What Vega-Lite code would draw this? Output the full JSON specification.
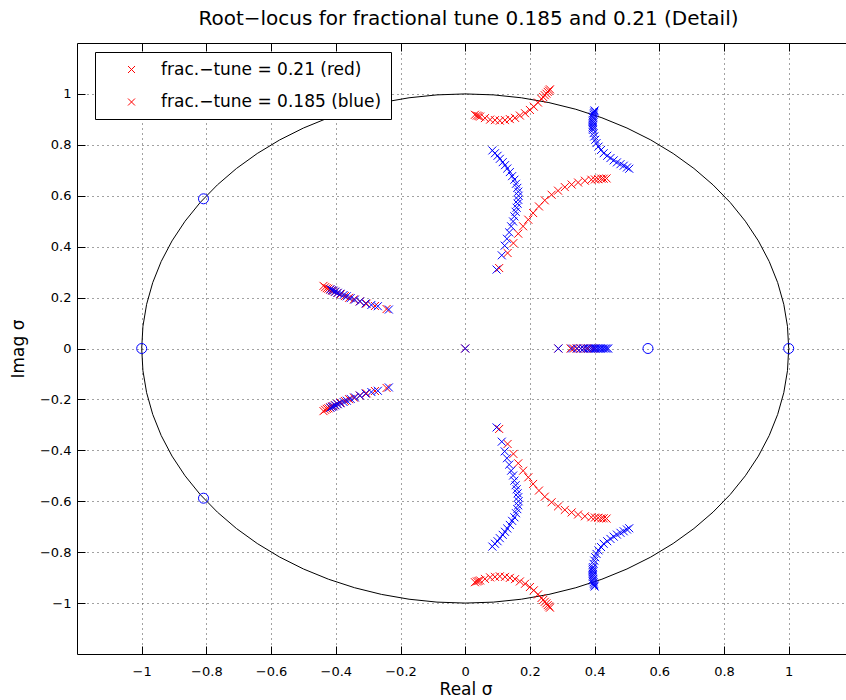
{
  "$schema": "https://vega.github.io/schema/vega-lite/v6.json",
  "autosize": {"type": "none"},
  "padding": {"left": 77, "top": 43, "right": 0, "bottom": 46},
  "width": 769,
  "height": 611,
  "title": {"text": "Root−locus for fractional tune 0.185 and 0.21 (Detail)", "font": "DejaVu Sans", "fontSize": 20, "fontWeight": "normal", "color": "#000", "anchor": "middle", "baseline": "alphabetic", "offset": 0, "dx": 7, "dy": 2},
  "resolve": {"axis": {"x": "independent", "y": "independent"}},
  "config": {
    "view": {"stroke": null},
    "axis": {"labelFont": "DejaVu Sans", "labelFontSize": 13, "labelColor": "#000", "titleFont": "DejaVu Sans", "titleFontSize": 17, "titleFontWeight": "normal", "titleColor": "#000", "domainColor": "#000", "domainWidth": 1, "tickColor": "#000", "tickWidth": 1, "gridColor": "#444", "gridDash": [1, 4], "gridWidth": 1, "labelFlush": false, "labelOverlap": false}
  },
  "datasets": {
    "circle": [
      {"t":0,"cx":1,"cy":0},{"t":5,"cx":0.9962,"cy":0.0872},{"t":10,"cx":0.9848,"cy":0.1736},{"t":15,"cx":0.9659,"cy":0.2588},{"t":20,"cx":0.9397,"cy":0.342},{"t":25,"cx":0.9063,"cy":0.4226},{"t":30,"cx":0.866,"cy":0.5},{"t":35,"cx":0.8192,"cy":0.5736},{"t":40,"cx":0.766,"cy":0.6428},{"t":45,"cx":0.7071,"cy":0.7071},{"t":50,"cx":0.6428,"cy":0.766},{"t":55,"cx":0.5736,"cy":0.8192},{"t":60,"cx":0.5,"cy":0.866},{"t":65,"cx":0.4226,"cy":0.9063},{"t":70,"cx":0.342,"cy":0.9397},{"t":75,"cx":0.2588,"cy":0.9659},{"t":80,"cx":0.1736,"cy":0.9848},{"t":85,"cx":0.0872,"cy":0.9962},
      {"t":90,"cx":0,"cy":1},{"t":95,"cx":-0.0872,"cy":0.9962},{"t":100,"cx":-0.1736,"cy":0.9848},{"t":105,"cx":-0.2588,"cy":0.9659},{"t":110,"cx":-0.342,"cy":0.9397},{"t":115,"cx":-0.4226,"cy":0.9063},{"t":120,"cx":-0.5,"cy":0.866},{"t":125,"cx":-0.5736,"cy":0.8192},{"t":130,"cx":-0.6428,"cy":0.766},{"t":135,"cx":-0.7071,"cy":0.7071},{"t":140,"cx":-0.766,"cy":0.6428},{"t":145,"cx":-0.8192,"cy":0.5736},{"t":150,"cx":-0.866,"cy":0.5},{"t":155,"cx":-0.9063,"cy":0.4226},{"t":160,"cx":-0.9397,"cy":0.342},{"t":165,"cx":-0.9659,"cy":0.2588},{"t":170,"cx":-0.9848,"cy":0.1736},{"t":175,"cx":-0.9962,"cy":0.0872},
      {"t":180,"cx":-1,"cy":0},{"t":185,"cx":-0.9962,"cy":-0.0872},{"t":190,"cx":-0.9848,"cy":-0.1736},{"t":195,"cx":-0.9659,"cy":-0.2588},{"t":200,"cx":-0.9397,"cy":-0.342},{"t":205,"cx":-0.9063,"cy":-0.4226},{"t":210,"cx":-0.866,"cy":-0.5},{"t":215,"cx":-0.8192,"cy":-0.5736},{"t":220,"cx":-0.766,"cy":-0.6428},{"t":225,"cx":-0.7071,"cy":-0.7071},{"t":230,"cx":-0.6428,"cy":-0.766},{"t":235,"cx":-0.5736,"cy":-0.8192},{"t":240,"cx":-0.5,"cy":-0.866},{"t":245,"cx":-0.4226,"cy":-0.9063},{"t":250,"cx":-0.342,"cy":-0.9397},{"t":255,"cx":-0.2588,"cy":-0.9659},{"t":260,"cx":-0.1736,"cy":-0.9848},{"t":265,"cx":-0.0872,"cy":-0.9962},
      {"t":270,"cx":0,"cy":-1},{"t":275,"cx":0.0872,"cy":-0.9962},{"t":280,"cx":0.1736,"cy":-0.9848},{"t":285,"cx":0.2588,"cy":-0.9659},{"t":290,"cx":0.342,"cy":-0.9397},{"t":295,"cx":0.4226,"cy":-0.9063},{"t":300,"cx":0.5,"cy":-0.866},{"t":305,"cx":0.5736,"cy":-0.8192},{"t":310,"cx":0.6428,"cy":-0.766},{"t":315,"cx":0.7071,"cy":-0.7071},{"t":320,"cx":0.766,"cy":-0.6428},{"t":325,"cx":0.8192,"cy":-0.5736},{"t":330,"cx":0.866,"cy":-0.5},{"t":335,"cx":0.9063,"cy":-0.4226},{"t":340,"cx":0.9397,"cy":-0.342},{"t":345,"cx":0.9659,"cy":-0.2588},{"t":350,"cx":0.9848,"cy":-0.1736},{"t":355,"cx":0.9962,"cy":-0.0872},{"t":360,"cx":1,"cy":0}
    ],
    "zeros": [
      {"x":-1,"y":0},{"x":1,"y":0},{"x":0.565,"y":0},{"x":-0.809,"y":0.588},{"x":-0.809,"y":-0.588}
    ],
    "poles": [
      {"s":"r","x":0.030,"y":0.918},{"s":"r","x":0.036,"y":0.915},{"s":"r","x":0.041,"y":0.913},{"s":"r","x":0.046,"y":0.911},{"s":"r","x":0.061,"y":0.905},{"s":"r","x":0.077,"y":0.899},{"s":"r","x":0.092,"y":0.897},{"s":"r","x":0.107,"y":0.895},{"s":"r","x":0.123,"y":0.897},{"s":"r","x":0.138,"y":0.901},{"s":"r","x":0.154,"y":0.906},{"s":"r","x":0.169,"y":0.915},{"s":"r","x":0.185,"y":0.924},{"s":"r","x":0.200,"y":0.937},{"s":"r","x":0.212,"y":0.950},{"s":"r","x":0.225,"y":0.966},{"s":"r","x":0.236,"y":0.980},{"s":"r","x":0.241,"y":0.988},{"s":"r","x":0.246,"y":0.995},{"s":"r","x":0.251,"y":1.001},{"s":"r","x":0.255,"y":1.008},{"s":"r","x":0.259,"y":1.013},{"s":"r","x":0.262,"y":1.018},
      {"s":"r","x":0.105,"y":0.316},{"s":"r","x":0.131,"y":0.375},{"s":"r","x":0.149,"y":0.414},{"s":"r","x":0.164,"y":0.451},{"s":"r","x":0.179,"y":0.480},{"s":"r","x":0.195,"y":0.506},{"s":"r","x":0.210,"y":0.532},{"s":"r","x":0.228,"y":0.558},{"s":"r","x":0.246,"y":0.582},{"s":"r","x":0.267,"y":0.604},{"s":"r","x":0.287,"y":0.620},{"s":"r","x":0.308,"y":0.634},{"s":"r","x":0.329,"y":0.644},{"s":"r","x":0.349,"y":0.652},{"s":"r","x":0.370,"y":0.659},{"s":"r","x":0.390,"y":0.663},{"s":"r","x":0.401,"y":0.664},{"s":"r","x":0.411,"y":0.665},{"s":"r","x":0.421,"y":0.667},{"s":"r","x":0.428,"y":0.667},{"s":"r","x":0.437,"y":0.668},
      {"s":"r","x":-0.438,"y":0.246},{"s":"r","x":-0.433,"y":0.241},{"s":"r","x":-0.428,"y":0.237},{"s":"r","x":-0.423,"y":0.235},{"s":"r","x":-0.417,"y":0.231},{"s":"r","x":-0.410,"y":0.227},{"s":"r","x":-0.403,"y":0.223},{"s":"r","x":-0.395,"y":0.218},{"s":"r","x":-0.385,"y":0.213},{"s":"r","x":-0.372,"y":0.206},{"s":"r","x":-0.359,"y":0.199},{"s":"r","x":-0.344,"y":0.193},{"s":"r","x":-0.326,"y":0.185},{"s":"r","x":-0.305,"y":0.176},{"s":"r","x":-0.279,"y":0.167},{"s":"r","x":-0.243,"y":0.155},
      {"s":"r","x":0,"y":0},
      {"s":"r","x":0.288,"y":0},{"s":"r","x":0.326,"y":0},{"s":"r","x":0.336,"y":0},{"s":"r","x":0.346,"y":0},{"s":"r","x":0.357,"y":0},{"s":"r","x":0.367,"y":0},{"s":"r","x":0.377,"y":0},{"s":"r","x":0.388,"y":0},{"s":"r","x":0.398,"y":0},
      {"s":"r","x":-0.438,"y":-0.246},{"s":"r","x":-0.433,"y":-0.241},{"s":"r","x":-0.428,"y":-0.237},{"s":"r","x":-0.423,"y":-0.235},{"s":"r","x":-0.417,"y":-0.231},{"s":"r","x":-0.410,"y":-0.227},{"s":"r","x":-0.403,"y":-0.223},{"s":"r","x":-0.395,"y":-0.218},{"s":"r","x":-0.385,"y":-0.213},{"s":"r","x":-0.372,"y":-0.206},{"s":"r","x":-0.359,"y":-0.199},{"s":"r","x":-0.344,"y":-0.193},{"s":"r","x":-0.326,"y":-0.185},{"s":"r","x":-0.305,"y":-0.176},{"s":"r","x":-0.279,"y":-0.167},{"s":"r","x":-0.243,"y":-0.155},
      {"s":"r","x":0.105,"y":-0.316},{"s":"r","x":0.131,"y":-0.375},{"s":"r","x":0.149,"y":-0.414},{"s":"r","x":0.164,"y":-0.451},{"s":"r","x":0.179,"y":-0.480},{"s":"r","x":0.195,"y":-0.506},{"s":"r","x":0.210,"y":-0.532},{"s":"r","x":0.228,"y":-0.558},{"s":"r","x":0.246,"y":-0.582},{"s":"r","x":0.267,"y":-0.604},{"s":"r","x":0.287,"y":-0.620},{"s":"r","x":0.308,"y":-0.634},{"s":"r","x":0.329,"y":-0.644},{"s":"r","x":0.349,"y":-0.652},{"s":"r","x":0.370,"y":-0.659},{"s":"r","x":0.390,"y":-0.663},{"s":"r","x":0.401,"y":-0.664},{"s":"r","x":0.411,"y":-0.665},{"s":"r","x":0.421,"y":-0.667},{"s":"r","x":0.428,"y":-0.667},{"s":"r","x":0.437,"y":-0.668},
      {"s":"r","x":0.030,"y":-0.918},{"s":"r","x":0.036,"y":-0.915},{"s":"r","x":0.041,"y":-0.913},{"s":"r","x":0.046,"y":-0.911},{"s":"r","x":0.061,"y":-0.905},{"s":"r","x":0.077,"y":-0.899},{"s":"r","x":0.092,"y":-0.897},{"s":"r","x":0.107,"y":-0.895},{"s":"r","x":0.123,"y":-0.897},{"s":"r","x":0.138,"y":-0.901},{"s":"r","x":0.154,"y":-0.906},{"s":"r","x":0.169,"y":-0.915},{"s":"r","x":0.185,"y":-0.924},{"s":"r","x":0.200,"y":-0.937},{"s":"r","x":0.212,"y":-0.950},{"s":"r","x":0.225,"y":-0.966},{"s":"r","x":0.236,"y":-0.980},{"s":"r","x":0.241,"y":-0.988},{"s":"r","x":0.246,"y":-0.995},{"s":"r","x":0.251,"y":-1.001},{"s":"r","x":0.255,"y":-1.008},{"s":"r","x":0.259,"y":-1.013},{"s":"r","x":0.262,"y":-1.018},
      {"s":"b","x":0.400,"y":0.935},{"s":"b","x":0.399,"y":0.930},{"s":"b","x":0.398,"y":0.924},{"s":"b","x":0.397,"y":0.918},{"s":"b","x":0.395,"y":0.911},{"s":"b","x":0.396,"y":0.905},{"s":"b","x":0.394,"y":0.898},{"s":"b","x":0.394,"y":0.891},{"s":"b","x":0.394,"y":0.885},{"s":"b","x":0.394,"y":0.878},{"s":"b","x":0.394,"y":0.872},{"s":"b","x":0.394,"y":0.865},{"s":"b","x":0.395,"y":0.859},{"s":"b","x":0.397,"y":0.846},{"s":"b","x":0.399,"y":0.833},{"s":"b","x":0.402,"y":0.820},{"s":"b","x":0.406,"y":0.807},{"s":"b","x":0.412,"y":0.793},{"s":"b","x":0.420,"y":0.780},{"s":"b","x":0.428,"y":0.767},{"s":"b","x":0.439,"y":0.757},{"s":"b","x":0.449,"y":0.748},{"s":"b","x":0.459,"y":0.739},{"s":"b","x":0.469,"y":0.731},{"s":"b","x":0.480,"y":0.724},{"s":"b","x":0.490,"y":0.718},{"s":"b","x":0.500,"y":0.711},{"s":"b","x":0.507,"y":0.706},
      {"s":"b","x":0.084,"y":0.778},{"s":"b","x":0.092,"y":0.767},{"s":"b","x":0.100,"y":0.757},{"s":"b","x":0.107,"y":0.745},{"s":"b","x":0.116,"y":0.732},{"s":"b","x":0.123,"y":0.720},{"s":"b","x":0.130,"y":0.707},{"s":"b","x":0.138,"y":0.693},{"s":"b","x":0.145,"y":0.677},{"s":"b","x":0.152,"y":0.663},{"s":"b","x":0.157,"y":0.647},{"s":"b","x":0.161,"y":0.631},{"s":"b","x":0.164,"y":0.616},{"s":"b","x":0.165,"y":0.600},{"s":"b","x":0.164,"y":0.584},{"s":"b","x":0.162,"y":0.569},{"s":"b","x":0.159,"y":0.553},{"s":"b","x":0.156,"y":0.537},{"s":"b","x":0.152,"y":0.519},{"s":"b","x":0.148,"y":0.499},{"s":"b","x":0.142,"y":0.480},{"s":"b","x":0.136,"y":0.456},{"s":"b","x":0.129,"y":0.431},{"s":"b","x":0.122,"y":0.404},{"s":"b","x":0.113,"y":0.366},{"s":"b","x":0.097,"y":0.310},
      {"s":"b","x":-0.417,"y":0.233},{"s":"b","x":-0.412,"y":0.229},{"s":"b","x":-0.407,"y":0.227},{"s":"b","x":-0.401,"y":0.223},{"s":"b","x":-0.394,"y":0.219},{"s":"b","x":-0.386,"y":0.215},{"s":"b","x":-0.376,"y":0.210},{"s":"b","x":-0.366,"y":0.205},{"s":"b","x":-0.354,"y":0.198},{"s":"b","x":-0.341,"y":0.192},{"s":"b","x":-0.325,"y":0.185},{"s":"b","x":-0.308,"y":0.177},{"s":"b","x":-0.290,"y":0.171},{"s":"b","x":-0.270,"y":0.166},{"s":"b","x":-0.236,"y":0.153},
      {"s":"b","x":0,"y":0},
      {"s":"b","x":0.288,"y":0},{"s":"b","x":0.330,"y":0},{"s":"b","x":0.345,"y":0},{"s":"b","x":0.357,"y":0},{"s":"b","x":0.366,"y":0},{"s":"b","x":0.374,"y":0},{"s":"b","x":0.381,"y":0},{"s":"b","x":0.387,"y":0},{"s":"b","x":0.393,"y":0},{"s":"b","x":0.398,"y":0},{"s":"b","x":0.403,"y":0},{"s":"b","x":0.408,"y":0},{"s":"b","x":0.413,"y":0},{"s":"b","x":0.418,"y":0},{"s":"b","x":0.423,"y":0},{"s":"b","x":0.428,"y":0},{"s":"b","x":0.433,"y":0},{"s":"b","x":0.438,"y":0},{"s":"b","x":0.442,"y":0},
      {"s":"b","x":-0.417,"y":-0.233},{"s":"b","x":-0.412,"y":-0.229},{"s":"b","x":-0.407,"y":-0.227},{"s":"b","x":-0.401,"y":-0.223},{"s":"b","x":-0.394,"y":-0.219},{"s":"b","x":-0.386,"y":-0.215},{"s":"b","x":-0.376,"y":-0.210},{"s":"b","x":-0.366,"y":-0.205},{"s":"b","x":-0.354,"y":-0.198},{"s":"b","x":-0.341,"y":-0.192},{"s":"b","x":-0.325,"y":-0.185},{"s":"b","x":-0.308,"y":-0.177},{"s":"b","x":-0.290,"y":-0.171},{"s":"b","x":-0.270,"y":-0.166},{"s":"b","x":-0.236,"y":-0.153},
      {"s":"b","x":0.084,"y":-0.778},{"s":"b","x":0.092,"y":-0.767},{"s":"b","x":0.100,"y":-0.757},{"s":"b","x":0.107,"y":-0.745},{"s":"b","x":0.116,"y":-0.732},{"s":"b","x":0.123,"y":-0.720},{"s":"b","x":0.130,"y":-0.707},{"s":"b","x":0.138,"y":-0.693},{"s":"b","x":0.145,"y":-0.677},{"s":"b","x":0.152,"y":-0.663},{"s":"b","x":0.157,"y":-0.647},{"s":"b","x":0.161,"y":-0.631},{"s":"b","x":0.164,"y":-0.616},{"s":"b","x":0.165,"y":-0.600},{"s":"b","x":0.164,"y":-0.584},{"s":"b","x":0.162,"y":-0.569},{"s":"b","x":0.159,"y":-0.553},{"s":"b","x":0.156,"y":-0.537},{"s":"b","x":0.152,"y":-0.519},{"s":"b","x":0.148,"y":-0.499},{"s":"b","x":0.142,"y":-0.480},{"s":"b","x":0.136,"y":-0.456},{"s":"b","x":0.129,"y":-0.431},{"s":"b","x":0.122,"y":-0.404},{"s":"b","x":0.113,"y":-0.366},{"s":"b","x":0.097,"y":-0.310},
      {"s":"b","x":0.400,"y":-0.935},{"s":"b","x":0.399,"y":-0.930},{"s":"b","x":0.398,"y":-0.924},{"s":"b","x":0.397,"y":-0.918},{"s":"b","x":0.395,"y":-0.911},{"s":"b","x":0.396,"y":-0.905},{"s":"b","x":0.394,"y":-0.898},{"s":"b","x":0.394,"y":-0.891},{"s":"b","x":0.394,"y":-0.885},{"s":"b","x":0.394,"y":-0.878},{"s":"b","x":0.394,"y":-0.872},{"s":"b","x":0.394,"y":-0.865},{"s":"b","x":0.395,"y":-0.859},{"s":"b","x":0.397,"y":-0.846},{"s":"b","x":0.399,"y":-0.833},{"s":"b","x":0.402,"y":-0.820},{"s":"b","x":0.406,"y":-0.807},{"s":"b","x":0.412,"y":-0.793},{"s":"b","x":0.420,"y":-0.780},{"s":"b","x":0.428,"y":-0.767},{"s":"b","x":0.439,"y":-0.757},{"s":"b","x":0.449,"y":-0.748},{"s":"b","x":0.459,"y":-0.739},{"s":"b","x":0.469,"y":-0.731},{"s":"b","x":0.480,"y":-0.724},{"s":"b","x":0.490,"y":-0.718},{"s":"b","x":0.500,"y":-0.711},{"s":"b","x":0.507,"y":-0.706}
    ]
  },
  "layer": [
    {
      "data": {"name": "circle"},
      "mark": {"type": "line", "color": "#000", "strokeWidth": 1, "clip": true},
      "encoding": {
        "x": {"field": "cx", "type": "quantitative", "scale": {"domain": [-1.2, 1.1771], "nice": false, "zero": false},
              "axis": {"orient": "top", "values": [-1,-0.8,-0.6,-0.4,-0.2,0,0.2,0.4,0.6,0.8,1], "labels": false, "grid": false, "tickSize": -8, "title": null, "domain": true}},
        "y": {"field": "cy", "type": "quantitative", "scale": {"domain": [-1.2, 1.2], "nice": false, "zero": false}, "axis": null},
        "order": {"field": "t", "type": "quantitative"}
      }
    },
    {
      "data": {"name": "zeros"},
      "mark": {"type": "point", "shape": "circle", "filled": false, "color": "#0000ff", "size": 100, "strokeWidth": 1, "opacity": 1},
      "encoding": {
        "x": {"field": "x", "type": "quantitative", "scale": {"domain": [-1.2, 1.1771], "nice": false, "zero": false},
              "axis": {"orient": "bottom", "values": [-1,-0.8,-0.6,-0.4,-0.2,0,0.2,0.4,0.6,0.8,1], "format": "~g", "grid": true, "tickSize": -8, "labelPadding": 19, "title": "Real σ", "titlePadding": 3, "titleX": 388.5}},
        "y": {"field": "y", "type": "quantitative", "scale": {"domain": [-1.2, 1.2], "nice": false, "zero": false},
              "axis": {"orient": "left", "values": [-1,-0.8,-0.6,-0.4,-0.2,0,0.2,0.4,0.6,0.8,1], "format": "~g", "grid": true, "tickSize": -8, "labelPadding": 14, "title": "Imag σ", "titlePadding": 12}}
      }
    },
    {
      "data": {"name": "poles"},
      "mark": {"type": "point", "filled": false, "size": 64, "strokeWidth": 1, "opacity": 1},
      "encoding": {
        "x": {"field": "x", "type": "quantitative", "scale": {"domain": [-1.2, 1.1771], "nice": false, "zero": false}, "axis": null},
        "y": {"field": "y", "type": "quantitative", "scale": {"domain": [-1.2, 1.2], "nice": false, "zero": false}, "axis": null},
        "color": {"condition": {"test": "datum.s == 'b'", "value": "#0000ff"}, "value": "#ff0000"},
        "shape": {"field": "s", "type": "nominal", "scale": {"domain": ["r", "b"], "range": ["M-1,-1L1,1M1,-1L-1,1", "M-1,-1L1,1M1,-1L-1,1"]},
                  "legend": {"orient": "none", "legendX": 18, "legendY": 9, "title": null, "fillColor": "#ffffff", "strokeColor": "#000000", "padding": 9, "rowPadding": 14.5, "labelFont": "DejaVu Sans", "labelFontSize": 17, "labelColor": "#000", "labelLimit": 400, "symbolSize": 49, "symbolStrokeWidth": 1, "symbolOffset": 19, "labelOffset": 21,
                             "labelExpr": "datum.label == 'r' ? 'frac.−tune = 0.21 (red)' : 'frac.−tune = 0.185 (blue)'",
                             "encode": {"symbols": {"stroke": {"value": "#ff0000"}, "fill": {"value": "transparent"}}}}}
      }
    }
  ]
}
